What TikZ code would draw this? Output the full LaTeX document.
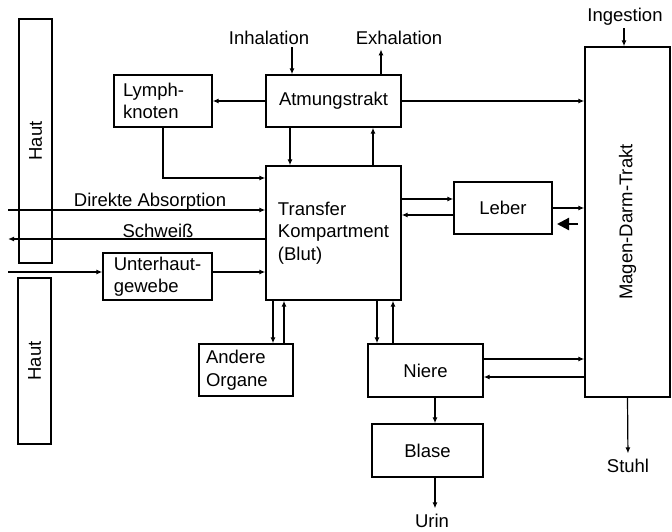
\documentclass[tikz,border=0pt]{standalone}
\usepackage{fontspec}
\usepackage{graphicx}
\setmainfont{Liberation Sans}
\usetikzlibrary{arrows.meta,calc}
\begin{document}
\tikzset{
  box/.style={draw, line width=1.4pt, inner sep=0pt, align=left, font=\fontsize{18.5pt}{22.5pt}\selectfont},
  lbl/.style={inner sep=0pt, font=\fontsize{18.5pt}{22.5pt}\selectfont},
  arr/.style={line width=1.2pt, -{Latex[length=6pt,width=5pt]}},
  bigarr/.style={line width=2.2pt, -{Triangle[length=12pt,width=12pt]}}
}
\begin{tikzpicture}[x=1pt,y=-1pt]
\useasboundingbox (0,0) rectangle (672,532);

% boxes
\node[box, minimum width=33, minimum height=244] (hautA) at (35.5,141) {\rotatebox{90}{Haut}};
\node[box, minimum width=33, minimum height=166] (hautB) at (34.5,361) {\rotatebox{90}{Haut}};
\node[box, minimum width=98, minimum height=52, text width=80] (lymph) at (163,101) {Lymph-\\knoten};
\node[box, minimum width=135, minimum height=52] (atem) at (333.5,101) {Atmungstrakt};
\node[box, minimum width=135, minimum height=134] (trans) at (333.5,233) {Transfer\\Kompartment\\(Blut)};
\node[box, minimum width=98, minimum height=52] (leber) at (503,208) {Leber};
\node[box, minimum width=109, minimum height=47] (unter) at (157.5,276.5) {Unterhaut-\\gewebe};
\node[box, minimum width=94, minimum height=52, text width=80] (andere) at (246,370) {Andere\\Organe};
\node[box, minimum width=115, minimum height=53] (niere) at (425.5,370.5) {Niere};
\node[box, minimum width=111, minimum height=53] (blase) at (427.5,450.5) {Blase};
\node[box, minimum width=85, minimum height=350] (magen) at (627.5,222) {\rotatebox{90}{Magen-Darm-Trakt}};

% labels
\node[lbl, anchor=base] (inh) at (269,45) {Inhalation};
\node[lbl, anchor=base] (exh) at (399,45) {Exhalation};
\node[lbl, anchor=base] (ing) at (625,22) {Ingestion};
\node[lbl, anchor=base] (stuhl) at (628,472) {Stuhl};
\node[lbl, anchor=base] (urin) at (432,527) {Urin};
\node[lbl, anchor=base] (dabs) at (150,206) {Direkte Absorption};
\node[lbl, anchor=base] (schw) at (158,237) {Schweiß};

% helper coordinates
\coordinate (xInh) at (292,0);
\coordinate (xExh) at (381,0);
\coordinate (xIng) at (624,0);
\coordinate (xAT1) at (290,0);
\coordinate (xAT2) at (373,0);
\coordinate (xAO1) at (273,0);
\coordinate (xAO2) at (284,0);
\coordinate (xNi1) at (377,0);
\coordinate (xNi2) at (393,0);
\coordinate (xBl) at (435,0);
\coordinate (yLy) at (0,178);
\coordinate (yLe1) at (0,199);
\coordinate (yLe2) at (0,215);
\coordinate (yNi1) at (0,359);
\coordinate (yNi2) at (0,377);
\coordinate (lAbs) at (8,210);
\coordinate (lSchw) at (8,239);
\coordinate (lUnt) at (8,272);
\coordinate (bA) at (578,224);
\coordinate (bB) at (557,224);

% connectors
\draw[arr, shorten <=2pt] (inh.south -| xInh) -- (atem.north -| xInh);
\draw[arr, shorten >=4pt] (atem.north -| xExh) -- (exh.south -| xExh);
\draw[arr, shorten <=2pt] (ing.south -| xIng) -- (magen.north -| xIng);
\draw[arr] (atem.west) -- (lymph.east);
\draw[arr] (atem.east) -- (atem.east -| magen.west);
\draw[arr] (atem.south -| xAT1) -- (trans.north -| xAT1);
\draw[arr] (trans.north -| xAT2) -- (atem.south -| xAT2);
\draw[arr] (lymph.south) |- (trans.west |- yLy);
\draw[arr] (lAbs) -- (lAbs -| trans.west);
\draw[arr] (trans.west |- lSchw) -- (lSchw);
\draw[arr] (lUnt) -- (lUnt -| unter.west);
\draw[arr] (unter.east |- lUnt) -- (trans.west |- lUnt);
\draw[arr] (trans.south -| xAO1) -- (andere.north -| xAO1);
\draw[arr] (andere.north -| xAO2) -- (trans.south -| xAO2);
\draw[arr] (trans.south -| xNi1) -- (niere.north -| xNi1);
\draw[arr] (niere.north -| xNi2) -- (trans.south -| xNi2);
\draw[arr] (trans.east |- yLe1) -- (leber.west |- yLe1);
\draw[arr] (leber.west |- yLe2) -- (trans.east |- yLe2);
\draw[arr] (leber.east) -- (leber.east -| magen.west);
\draw[arr] (niere.east |- yNi1) -- (magen.west |- yNi1);
\draw[arr] (magen.west |- yNi2) -- (niere.east |- yNi2);
\draw[arr] (niere.south -| xBl) -- (blase.north -| xBl);
\draw[arr, shorten >=5pt] (blase.south -| xBl) -- (urin.north -| xBl);
\draw[arr, shorten >=5pt] (magen.south) -- (stuhl.north);
\draw[bigarr] (bA) -- (bB);
\end{tikzpicture}
\end{document}
